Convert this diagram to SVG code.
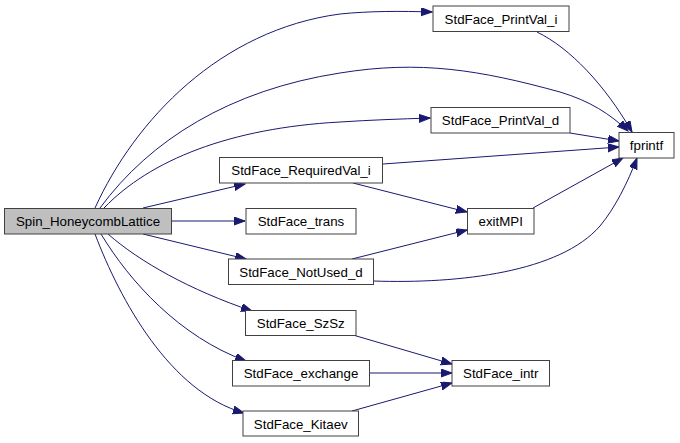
<svg xmlns="http://www.w3.org/2000/svg" width="680" height="443" viewBox="0 0 680 443">
<style>
.n rect{fill:#ffffff;stroke:#404040;stroke-width:1}
.n text{font-family:"Liberation Sans",Arial,sans-serif;font-size:13.3px;fill:#000000;text-anchor:middle}
#edges path{fill:none;stroke:#191970;stroke-width:1;marker-end:url(#ah)}
</style>
<defs>
<marker id="ah" markerUnits="userSpaceOnUse" markerWidth="12" markerHeight="9" refX="11" refY="4" orient="auto">
<path d="M0,0 L11,4 L0,8 z" fill="#191970" stroke="#191970" stroke-width="1"/>
</marker>
</defs>
<rect width="680" height="443" fill="#ffffff"/>
<g id="edges">
<path d="M95,208 C135,120 220,30 340,14 C370,11 400,11 432,12"/>
<path d="M100,208 C150,140 230,90 340,73 C420,60 480,70 560,92 C590,101 610,114 628,131"/>
<path d="M104,208 C150,160 230,128 340,122 C370,120 400,119 430,118"/>
<path d="M143,208 L245,184"/>
<path d="M172,221 L245,221"/>
<path d="M143,234 L246,259"/>
<path d="M108,234 C140,262 190,290 252,311"/>
<path d="M101,234 C130,282 180,337 246,361"/>
<path d="M95,234 C120,300 170,392 244,413"/>
<path d="M537,32 C570,48 605,85 632,132"/>
<path d="M570,133 L619,141"/>
<path d="M383,164 L619,147"/>
<path d="M353,183 L467,212"/>
<path d="M352,259 L467,230"/>
<path d="M533,208 L623,158"/>
<path d="M373,281 C460,284 560,272 600,226 C615,208 628,182 637,158"/>
<path d="M353,335 L452,364"/>
<path d="M369,373 L452,373"/>
<path d="M352,411 L452,383"/>
</g>
<g id="spin" class="n"><rect x="4.5" y="208.5" width="167" height="25.5" style="fill:#bfbfbf"/><text x="88" y="226">Spin_HoneycombLattice</text></g>
<g id="printval_i" class="n"><rect x="433" y="6" width="136" height="25.5"/><text x="501" y="23.5">StdFace_PrintVal_i</text></g>
<g id="printval_d" class="n"><rect x="431" y="107.5" width="139" height="25.5"/><text x="500.5" y="125">StdFace_PrintVal_d</text></g>
<g id="fprintf" class="n"><rect x="619" y="132.5" width="55" height="25.5"/><text x="646.5" y="150">fprintf</text></g>
<g id="requiredval_i" class="n"><rect x="219.5" y="157.5" width="163" height="25.5"/><text x="301" y="175">StdFace_RequiredVal_i</text></g>
<g id="trans" class="n"><rect x="246" y="208.5" width="110" height="25.5"/><text x="301" y="226">StdFace_trans</text></g>
<g id="exitmpi" class="n"><rect x="467.5" y="208.5" width="66.5" height="25.5"/><text x="500.75" y="226">exitMPI</text></g>
<g id="notused_d" class="n"><rect x="228.5" y="259" width="145" height="25.5"/><text x="301" y="276.5">StdFace_NotUsed_d</text></g>
<g id="szsz" class="n"><rect x="245.5" y="310.5" width="110.5" height="25"/><text x="300.75" y="328">StdFace_SzSz</text></g>
<g id="exchange" class="n"><rect x="232.5" y="360.5" width="137" height="25.5"/><text x="301" y="378">StdFace_exchange</text></g>
<g id="kitaev" class="n"><rect x="243" y="411" width="115.5" height="25"/><text x="300.75" y="428.5">StdFace_Kitaev</text></g>
<g id="intr" class="n"><rect x="452" y="360.5" width="97.5" height="25.5"/><text x="500.75" y="378">StdFace_intr</text></g>
</svg>
